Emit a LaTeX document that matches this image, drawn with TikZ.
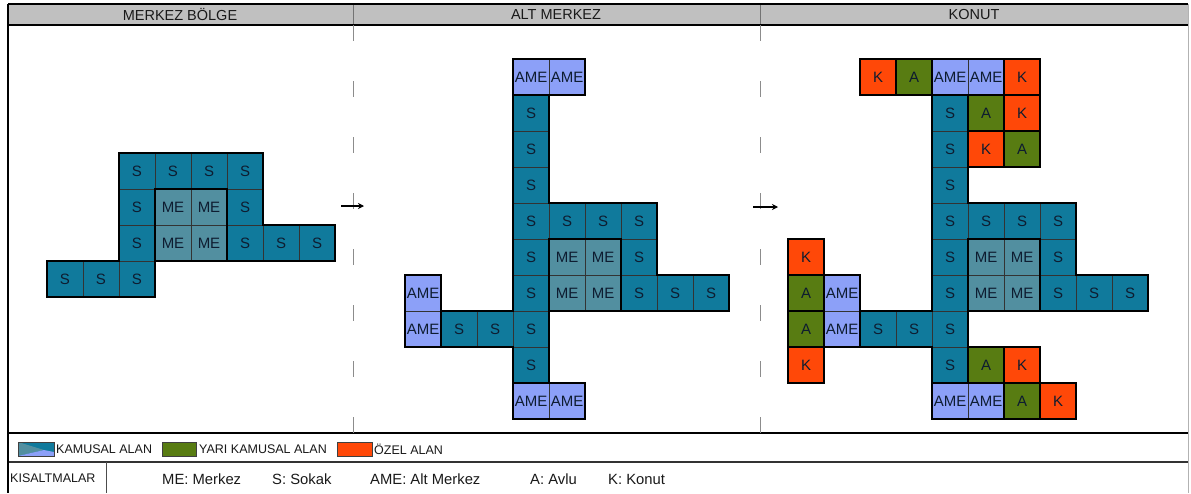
\documentclass[tikz,border=0pt]{standalone}
\usepackage{fontspec}
\setmainfont{Liberation Sans}
\usetikzlibrary{arrows.meta}
\definecolor{sc}{RGB}{16,122,156}
\definecolor{mec}{RGB}{82,143,160}
\definecolor{amec}{RGB}{140,160,248}
\definecolor{kc}{RGB}{255,72,8}
\definecolor{ac}{RGB}{88,124,18}
\definecolor{hdr}{RGB}{192,192,192}
\definecolor{txt}{RGB}{14,28,48}
\newcommand\gcell[5]{\node[#4] (#1) at ({#2+0.5},{#3+0.5}) {#5};}
\begin{document}
\begin{tikzpicture}[x=1pt,y=-1pt,
  cellbase/.style={draw=black!80, line width=0.8pt, minimum size=36pt, inner sep=0pt, outer sep=0pt, text=txt, font=\fontsize{15}{15}\selectfont},
  scell/.style={cellbase, fill=sc},
  mecell/.style={cellbase, fill=mec},
  amecell/.style={cellbase, fill=amec},
  kcell/.style={cellbase, fill=kc},
  acell/.style={cellbase, fill=ac},
  outl/.style={draw=black, line width=2.2pt},
  frameline/.style={draw=black, line width=2.2pt},
  sepline/.style={draw=black!55, line width=1pt},
  dashsep/.style={draw=black!45, line width=1pt, dash pattern=on 16pt off 40pt},
  arr/.style={draw=black, line width=1.4pt, -{Stealth[length=6pt,width=6pt]}},
  hdrtext/.style={font=\fontsize{14.5}{14.5}\selectfont, text=black!90},
  legtext/.style={font=\fontsize{12.5}{12.5}\selectfont, text=black!90, anchor=west, inner sep=0pt},
  abbtext/.style={font=\fontsize{14.8}{14.8}\selectfont, text=black!90, anchor=west, inner sep=0pt},
  legbox/.style={draw=black!75, line width=1pt}
]
\useasboundingbox (0,0) rectangle (1191,493);
\fill[white] (0,0) rectangle (1191,493);

% ---- frame ----
\fill[hdr] (8,4) rectangle (1188,25);
\draw[sepline] (353,4) -- (353,25);
\draw[sepline] (760,4) -- (760,25);
\draw[frameline] (8,4) -- (1188,4);
\draw[frameline] (8,25) -- (1188,25);
\draw[frameline] (8,433) -- (1188,433);
\draw[draw=black!80, line width=1.4pt] (8,462) -- (1188,462);
\draw[draw=black, line width=1.6pt] (8,4) -- (8,493);
\draw[draw=black!30, line width=0.8pt] (1188,4) -- (1188,493);
\draw[draw=black!70, line width=1pt] (106,462) -- (106,493);
\draw[dashsep] (353,25) -- (353,433);
\draw[dashsep] (760,25) -- (760,433);

\node[hdrtext] (h1) at (180,15) {MERKEZ BÖLGE};
\node[hdrtext] (h2) at (556,15) {ALT MERKEZ};
\node[hdrtext] (h3) at (974,15) {KONUT};

% ---- panel 1 ----
\begin{scope}[shift={(47,153)}, x=36pt, y=-36pt]
\gcell{a-r0c2}{2}{0}{scell}{S}
\gcell{a-r0c3}{3}{0}{scell}{S}
\gcell{a-r0c4}{4}{0}{scell}{S}
\gcell{a-r0c5}{5}{0}{scell}{S}
\gcell{a-r1c2}{2}{1}{scell}{S}
\gcell{a-r1c3}{3}{1}{mecell}{ME}
\gcell{a-r1c4}{4}{1}{mecell}{ME}
\gcell{a-r1c5}{5}{1}{scell}{S}
\gcell{a-r2c2}{2}{2}{scell}{S}
\gcell{a-r2c3}{3}{2}{mecell}{ME}
\gcell{a-r2c4}{4}{2}{mecell}{ME}
\gcell{a-r2c5}{5}{2}{scell}{S}
\gcell{a-r2c6}{6}{2}{scell}{S}
\gcell{a-r2c7}{7}{2}{scell}{S}
\gcell{a-r3c0}{0}{3}{scell}{S}
\gcell{a-r3c1}{1}{3}{scell}{S}
\gcell{a-r3c2}{2}{3}{scell}{S}
\draw[outl] (2,0) -- (6,0) -- (6,2) -- (8,2) -- (8,3) -- (3,3) -- (3,4) -- (0,4) -- (0,3) -- (2,3) -- cycle;
\draw[outl] (3,1) rectangle (5,3);
\end{scope}

% ---- panel 2 ----
\begin{scope}[shift={(405,59)}, x=36pt, y=-36pt]
\gcell{b-r0c3}{3}{0}{amecell}{AME}
\gcell{b-r0c4}{4}{0}{amecell}{AME}
\gcell{b-r1c3}{3}{1}{scell}{S}
\gcell{b-r2c3}{3}{2}{scell}{S}
\gcell{b-r3c3}{3}{3}{scell}{S}
\gcell{b-r4c3}{3}{4}{scell}{S}
\gcell{b-r4c4}{4}{4}{scell}{S}
\gcell{b-r4c5}{5}{4}{scell}{S}
\gcell{b-r4c6}{6}{4}{scell}{S}
\gcell{b-r5c3}{3}{5}{scell}{S}
\gcell{b-r5c4}{4}{5}{mecell}{ME}
\gcell{b-r5c5}{5}{5}{mecell}{ME}
\gcell{b-r5c6}{6}{5}{scell}{S}
\gcell{b-r6c0}{0}{6}{amecell}{AME}
\gcell{b-r6c3}{3}{6}{scell}{S}
\gcell{b-r6c4}{4}{6}{mecell}{ME}
\gcell{b-r6c5}{5}{6}{mecell}{ME}
\gcell{b-r6c6}{6}{6}{scell}{S}
\gcell{b-r6c7}{7}{6}{scell}{S}
\gcell{b-r6c8}{8}{6}{scell}{S}
\gcell{b-r7c0}{0}{7}{amecell}{AME}
\gcell{b-r7c1}{1}{7}{scell}{S}
\gcell{b-r7c2}{2}{7}{scell}{S}
\gcell{b-r7c3}{3}{7}{scell}{S}
\gcell{b-r8c3}{3}{8}{scell}{S}
\gcell{b-r9c3}{3}{9}{amecell}{AME}
\gcell{b-r9c4}{4}{9}{amecell}{AME}
\draw[outl] (3,1) -- (4,1) -- (4,4) -- (7,4) -- (7,6) -- (9,6) -- (9,7) -- (4,7) -- (4,9) -- (3,9) -- (3,8) -- (1,8) -- (1,7) -- (3,7) -- cycle;
\draw[outl] (4,5) rectangle (6,7);
\draw[outl] (3,0) rectangle (5,1);
\draw[outl] (3,9) rectangle (5,10);
\draw[outl] (0,6) rectangle (1,8);
\end{scope}

% ---- panel 3 ----
\begin{scope}[shift={(788,59)}, x=36pt, y=-36pt]
\gcell{c-r0c2}{2}{0}{kcell}{K}
\gcell{c-r0c3}{3}{0}{acell}{A}
\gcell{c-r0c4}{4}{0}{amecell}{AME}
\gcell{c-r0c5}{5}{0}{amecell}{AME}
\gcell{c-r0c6}{6}{0}{kcell}{K}
\gcell{c-r1c4}{4}{1}{scell}{S}
\gcell{c-r1c5}{5}{1}{acell}{A}
\gcell{c-r1c6}{6}{1}{kcell}{K}
\gcell{c-r2c4}{4}{2}{scell}{S}
\gcell{c-r2c5}{5}{2}{kcell}{K}
\gcell{c-r2c6}{6}{2}{acell}{A}
\gcell{c-r3c4}{4}{3}{scell}{S}
\gcell{c-r4c4}{4}{4}{scell}{S}
\gcell{c-r4c5}{5}{4}{scell}{S}
\gcell{c-r4c6}{6}{4}{scell}{S}
\gcell{c-r4c7}{7}{4}{scell}{S}
\gcell{c-r5c0}{0}{5}{kcell}{K}
\gcell{c-r5c4}{4}{5}{scell}{S}
\gcell{c-r5c5}{5}{5}{mecell}{ME}
\gcell{c-r5c6}{6}{5}{mecell}{ME}
\gcell{c-r5c7}{7}{5}{scell}{S}
\gcell{c-r6c0}{0}{6}{acell}{A}
\gcell{c-r6c1}{1}{6}{amecell}{AME}
\gcell{c-r6c4}{4}{6}{scell}{S}
\gcell{c-r6c5}{5}{6}{mecell}{ME}
\gcell{c-r6c6}{6}{6}{mecell}{ME}
\gcell{c-r6c7}{7}{6}{scell}{S}
\gcell{c-r6c8}{8}{6}{scell}{S}
\gcell{c-r6c9}{9}{6}{scell}{S}
\gcell{c-r7c0}{0}{7}{acell}{A}
\gcell{c-r7c1}{1}{7}{amecell}{AME}
\gcell{c-r7c2}{2}{7}{scell}{S}
\gcell{c-r7c3}{3}{7}{scell}{S}
\gcell{c-r7c4}{4}{7}{scell}{S}
\gcell{c-r8c0}{0}{8}{kcell}{K}
\gcell{c-r8c4}{4}{8}{scell}{S}
\gcell{c-r8c5}{5}{8}{acell}{A}
\gcell{c-r8c6}{6}{8}{kcell}{K}
\gcell{c-r9c4}{4}{9}{amecell}{AME}
\gcell{c-r9c5}{5}{9}{amecell}{AME}
\gcell{c-r9c6}{6}{9}{acell}{A}
\gcell{c-r9c7}{7}{9}{kcell}{K}
\draw[outl] (4,1) -- (5,1) -- (5,4) -- (8,4) -- (8,6) -- (10,6) -- (10,7) -- (5,7) -- (5,9) -- (4,9) -- (4,8) -- (2,8) -- (2,7) -- (4,7) -- cycle;
\draw[outl] (5,5) rectangle (7,7);
\draw[outl] (4,0) rectangle (6,1);
\draw[outl] (4,9) rectangle (6,10);
\draw[outl] (1,6) rectangle (2,8);
\foreach \n in {c-r0c2,c-r0c3,c-r0c6,c-r1c5,c-r1c6,c-r2c5,c-r2c6,c-r5c0,c-r6c0,c-r7c0,c-r8c0,c-r8c5,c-r8c6,c-r9c6,c-r9c7}
  \draw[outl] (\n.north west) rectangle (\n.south east);
\end{scope}

% ---- arrows between stages ----
\coordinate (ar1s) at (341,206);
\coordinate (ar1e) at (364,206);
\coordinate (ar2s) at (753,207);
\coordinate (ar2e) at (778,207);
\draw[arr] (ar1s) -- (ar1e);
\draw[arr] (ar2s) -- (ar2e);

% ---- legend ----
\fill[sc] (18,442) rectangle (54,456);
\fill[mec] (18,442) -- (44,450) -- (18,456) -- cycle;
\fill[amec] (18,456) -- (44,450) -- (54,452) -- (54,456) -- cycle;
\draw[legbox] (18,442) rectangle (54,456);
\node[legtext] (l1) at (56,449) {KAMUSAL ALAN};
\fill[ac] (162,442) rectangle (196,456);
\draw[legbox] (162,442) rectangle (196,456);
\node[legtext] (l2) at (199,449) {YARI KAMUSAL ALAN};
\fill[kc] (337,442) rectangle (372,456);
\draw[legbox] (337,442) rectangle (372,456);
\node[legtext] (l3) at (374,449) {ÖZEL ALAN};

\node[legtext, font=\fontsize{12.5}{12.5}\selectfont] (k0) at (10,478) {KISALTMALAR};
\node[abbtext] (k1) at (162,479) {ME: Merkez};
\node[abbtext] (k2) at (272,479) {S: Sokak};
\node[abbtext] (k3) at (370,479) {AME: Alt Merkez};
\node[abbtext] (k4) at (530,479) {A: Avlu};
\node[abbtext] (k5) at (608,479) {K: Konut};
\end{tikzpicture}
\end{document}
